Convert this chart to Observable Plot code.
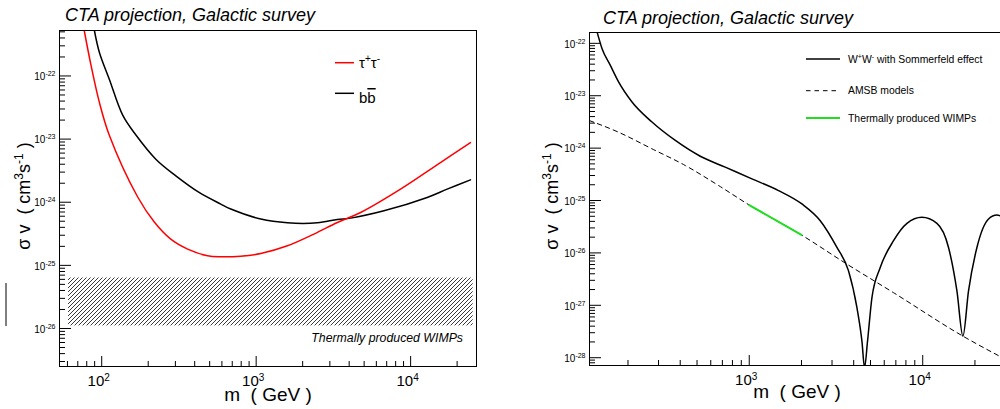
<!DOCTYPE html>
<html><head><meta charset="utf-8">
<script src="https://cdn.jsdelivr.net/npm/d3@7"></script>
<script src="https://cdn.jsdelivr.net/npm/@observablehq/plot@0.6"></script>
<style>
html,body{margin:0;padding:0;background:#fff;}
#page{position:relative;width:1000px;height:409px;overflow:hidden;font-family:"Liberation Sans",Arial,Helvetica,sans-serif;}
#page svg{position:absolute;top:0;}
</style></head><body><div id="page">
<svg id="overlay" width="1000" height="409" style="left:0;top:0;z-index:5" font-family='"Liberation Sans", Arial, Helvetica, sans-serif'>
  <text x="65" y="20.5" font-size="18" font-style="italic">CTA projection, Galactic survey</text>
  <text x="603" y="24" font-size="18" font-style="italic">CTA projection, Galactic survey</text>
  <text transform="translate(30,196) rotate(-90)" text-anchor="middle" font-size="18">σ v&#160;&#160;( cm<tspan dy="-7" font-size="12">3</tspan><tspan dy="7">s</tspan><tspan dy="-7" font-size="12">-1</tspan><tspan dy="7">&#160;)</tspan></text>
  <text transform="translate(558,196) rotate(-90)" text-anchor="middle" font-size="18">σ v&#160;&#160;( cm<tspan dy="-7" font-size="12">3</tspan><tspan dy="7">s</tspan><tspan dy="-7" font-size="12">-1</tspan><tspan dy="7">&#160;)</tspan></text>
  <text x="268" y="401" text-anchor="middle" font-size="19">m&#160;&#160;( GeV )</text>
  <text x="797" y="398" text-anchor="middle" font-size="19">m&#160;&#160;( GeV )</text>
  <line x1="335" x2="354" y1="62.7" y2="62.7" stroke="#ff0000" stroke-width="1.5"/>
  <text x="359" y="68" font-size="15">τ<tspan dy="-6" font-size="10">+</tspan><tspan dy="6">τ</tspan><tspan dy="-6" font-size="10">-</tspan></text>
  <line x1="335" x2="354" y1="93.3" y2="93.3" stroke="#000" stroke-width="1.5"/>
  <text x="359" y="103" font-size="15">b<tspan style="text-decoration:overline">b</tspan></text>
  <text x="463" y="342" text-anchor="end" font-size="12.3" font-style="italic">Thermally produced WIMPs</text>
  <line x1="6" x2="6" y1="283" y2="326" stroke="#000" stroke-width="1"/>
  <line x1="806" x2="840" y1="59" y2="59" stroke="#000" stroke-width="1.5"/>
  <text x="848" y="62.7" font-size="10.4">W<tspan dy="-3.5" font-size="7">+</tspan><tspan dy="3.5">W</tspan><tspan dy="-3.5" font-size="7">-</tspan><tspan dy="3.5"> with Sommerfeld effect</tspan></text>
  <line x1="806" x2="840" y1="90.7" y2="90.7" stroke="#000" stroke-width="1" stroke-dasharray="4.5,4"/>
  <text x="848" y="94.4" font-size="10.4">AMSB models</text>
  <line x1="806" x2="840" y1="118" y2="118" stroke="#22dd22" stroke-width="2"/>
  <text x="848" y="121.7" font-size="10.4">Thermally produced WIMPs</text>
</svg>
</div>
<script>
// ---------- data ----------
// Left panel: CTA Galactic survey limits
const tauMass  = [77, 85.3, 96.5, 112, 171, 219, 280, 360, 484, 590, 795, 1071, 1593, 2366, 3355, 4745, 8600, 15600, 24400];
const tauSigma = [5.3e-22, 1.47e-22, 3.85e-23, 1.15e-23, 1.21e-24, 4.86e-25, 2.6e-25, 1.81e-25, 1.42e-25, 1.37e-25, 1.40e-25, 1.54e-25, 2.04e-25, 3.13e-25, 4.78e-25, 6.87e-25, 1.61e-24, 4.25e-24, 8.8e-24];
const bbMass   = [89.6, 96.5, 112, 137, 167, 224, 302, 427, 590, 685, 1071, 1593, 2489, 3355, 4090, 6717, 12800, 17240, 24400];
const bbSigma  = [5.3e-22, 2.38e-22, 8.87e-23, 2.37e-23, 1.15e-23, 4.81e-24, 2.62e-24, 1.43e-24, 9.35e-25, 7.8e-25, 5.41e-25, 4.72e-25, 4.72e-25, 5.33e-25, 5.6e-25, 7.31e-25, 1.19e-24, 1.61e-24, 2.26e-24];
const thermalBandMass  = [61, 25400];
const thermalBandSigma = [1.1e-26, 6.3e-26];

// Right panel: wino models
const wwMass  = [133, 141.6, 158, 176.5, 211, 275, 375, 522, 727, 1036, 1475, 2012, 2566, 3202, 3735, 4176, 4462, 4620, 4807, 5096, 5689, 6788, 8110, 9894, 12075, 14084, 15744, 17050, 18365, 20530, 23950, 26770, 30000];
const wwSigma = [1.6e-22, 8.0e-23, 3.84e-23, 1.84e-23, 7.6e-24, 3.15e-24, 1.40e-24, 7.0e-25, 4.33e-25, 2.59e-25, 1.55e-25, 8.6e-26, 4.12e-26, 1.27e-26, 4.54e-27, 9.0e-28, 2.07e-28, 6.5e-29, 2.07e-28, 1.4e-27, 5.25e-27, 1.71e-26, 3.66e-26, 4.77e-26, 3.66e-26, 1.27e-26, 1.88e-27, 2.58e-28, 1.88e-27, 1.27e-26, 4.45e-26, 5.3e-26, 4.5e-26];
const amsbMass  = [120, 176, 275, 428, 666, 1000, 2000, 3660, 6790, 17050, 30000];
const amsbSigma = [3.35e-24, 2.02e-24, 9.7e-25, 4.66e-25, 1.93e-25, 8.2e-26, 2.2e-26, 6.1e-27, 1.74e-27, 2.58e-28, 9.3e-29];
const thermalMass  = [1000, 2000];
const thermalSigma = [8.2e-26, 2.2e-26];

// axes
const leftXDomain  = [53.3, 26700];
const leftYDomain  = [2.5e-27, 5.25e-22];
const rightXDomain = [120, 30000];
const rightYDomain = [7.1e-29, 1.61e-22];
const leftXExps  = [1, 2, 3, 4];
const leftYExps  = [-27, -26, -25, -24, -23, -22];
const rightXExps = [2, 3, 4];
const rightYExps = [-29, -28, -27, -26, -25, -24, -23, -22];
const mantissas  = [1, 2, 3, 4, 5, 6, 7, 8, 9];

// ---------- helpers ----------
const FONT = '"Liberation Sans", Arial, Helvetica, sans-serif';
const pts = (xs, ys) => xs.map((x, i) => ({m: x, s: ys[i]}));
function logTicks([lo, hi], exps) {
  const major = [], minor = [];
  for (const e of exps) for (const k of mantissas) {
    const v = k * Math.pow(10, e);
    if (v < lo * 0.9999 || v > hi * 1.0001) continue;
    (k === 1 ? major : minor).push(v);
  }
  return {major, minor};
}
const fmt = d => "10|" + Math.round(Math.log10(d));
const NS = "http://www.w3.org/2000/svg";
function supify(svg, axis, supSize, dy) {
  svg.querySelectorAll(`g[aria-label="${axis}-axis tick label"] text`).forEach(t => {
    const s = t.textContent;
    if (!s.includes("|")) return;
    const [b, e] = s.split("|");
    while (t.firstChild) t.removeChild(t.firstChild);
    const t1 = document.createElementNS(NS, "tspan"); t1.textContent = b; t.appendChild(t1);
    const t2 = document.createElementNS(NS, "tspan");
    t2.setAttribute("dy", dy); t2.setAttribute("font-size", supSize); t2.textContent = e;
    t.appendChild(t2);
  });
}

function panel({width, ml, mr, mt, mb, xDomain, yDomain, xExps, yExps, xTickLen, yTickLen, marks, left}) {
  const height = 409;
  const fw = width - ml - mr, fh = height - mt - mb;
  const xt = logTicks(xDomain, xExps), yt = logTicks(yDomain, yExps);
  const svg = Plot.plot({
    width, height, marginLeft: ml, marginRight: mr, marginTop: mt, marginBottom: mb,
    style: {background: "transparent", maxWidth: "none", fontFamily: FONT, left: left + "px", top: "0px"},
    x: {type: "log", domain: xDomain, axis: null},
    y: {type: "log", domain: yDomain, axis: null},
    marks: [
      ...marks,
      Plot.ruleX(xt.major, {insetTop: fh - xTickLen[0], stroke: "black"}),
      Plot.ruleX(xt.minor, {insetTop: fh - xTickLen[1], stroke: "black"}),
      Plot.ruleY(yt.major, {insetRight: fw - yTickLen[0], stroke: "black"}),
      Plot.ruleY(yt.minor, {insetRight: fw - yTickLen[1], stroke: "black"}),
      Plot.axisX(xt.major, {tickSize: 0, tickPadding: 9, fontSize: 15, tickFormat: fmt, label: null, dx: -3}),
      Plot.axisY(yt.major, {tickSize: 0, tickPadding: 4, fontSize: 10, tickFormat: fmt, label: null, dy: 1}),
      Plot.frame({stroke: "black", strokeWidth: 1})
    ]
  });
  supify(svg, "x", 10, -5);
  supify(svg, "y", 7, -4);
  return svg;
}

const page = document.getElementById("page");
const overlay = document.getElementById("overlay");

const leftSvg = panel({
  width: 480, ml: 59, mr: 4, mt: 30, mb: 43, left: 0,
  xDomain: leftXDomain, yDomain: leftYDomain, xExps: leftXExps, yExps: leftYExps,
  xTickLen: [10, 5], yTickLen: [12, 6],
  marks: [
    Plot.rect([{m1: thermalBandMass[0], m2: thermalBandMass[1], s1: thermalBandSigma[0], s2: thermalBandSigma[1]}],
      {x1: "m1", x2: "m2", y1: "s1", y2: "s2", fill: "url(#hatchL)"}),
    Plot.line(pts(bbMass, bbSigma), {x: "m", y: "s", stroke: "#000", strokeWidth: 1.5, curve: "catmull-rom", clip: true}),
    Plot.line(pts(tauMass, tauSigma), {x: "m", y: "s", stroke: "#ff0000", strokeWidth: 1.5, curve: "catmull-rom", clip: true})
  ]
});
const defs = d3.select(leftSvg).insert("defs", ":first-child");
const pat = defs.append("pattern").attr("id", "hatchL").attr("patternUnits", "userSpaceOnUse")
  .attr("width", 4).attr("height", 4);
pat.append("path").attr("d", "M-1,1 l2,-2 M0,4 l4,-4 M3,5 l2,-2")
  .attr("stroke", "#222").attr("stroke-width", 0.9).attr("fill", "none");
page.insertBefore(leftSvg, overlay);

const rightSvg = panel({
  width: 530, ml: 109, mr: 5, mt: 32, mb: 44, left: 480,
  xDomain: rightXDomain, yDomain: rightYDomain, xExps: rightXExps, yExps: rightYExps,
  xTickLen: [10, 5], yTickLen: [12, 6],
  marks: [
    Plot.line(pts(amsbMass, amsbSigma), {x: "m", y: "s", stroke: "#000", strokeWidth: 1, strokeDasharray: "4.5,4", curve: "monotone-x", clip: true}),
    Plot.line(pts(thermalMass, thermalSigma), {x: "m", y: "s", stroke: "#22dd22", strokeWidth: 2, clip: true}),
    Plot.line(pts(wwMass, wwSigma), {x: "m", y: "s", stroke: "#000", strokeWidth: 1.5, curve: "monotone-x", clip: true})
  ]
});
page.insertBefore(rightSvg, overlay);
</script></body></html>
